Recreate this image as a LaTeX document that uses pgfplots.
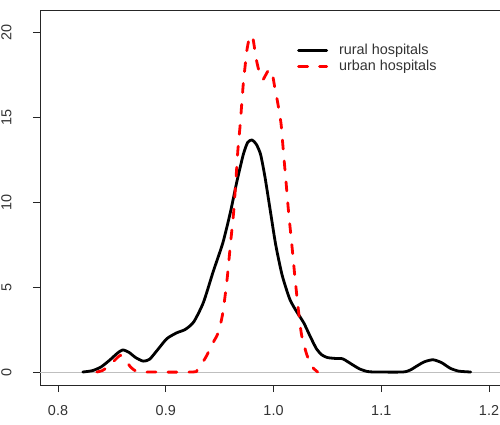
\documentclass[border=0pt]{standalone}
\usepackage{fontspec}
\setmainfont{Liberation Sans}
\usepackage{pgfplots}
\pgfplotsset{compat=1.18}

\pgfplotstableread{
x y
0.823 0
0.832 0.08
0.840 0.30
0.848 0.70
0.855 1.10
0.860 1.30
0.866 1.15
0.872 0.85
0.879 0.64
0.885 0.75
0.893 1.35
0.901 1.96
0.910 2.30
0.918 2.50
0.926 2.95
0.935 4.10
0.944 5.90
0.953 7.60
0.960 9.40
0.966 11.2
0.972 12.8
0.976 13.5
0.980 13.65
0.984 13.4
0.988 12.8
0.992 11.5
0.997 9.5
1.002 7.5
1.008 5.7
1.015 4.3
1.021 3.6
1.028 2.9
1.034 2.1
1.040 1.35
1.045 1.0
1.050 0.85
1.057 0.80
1.064 0.78
1.069 0.60
1.074 0.40
1.080 0.18
1.087 0.03
1.095 0
1.120 0
1.127 0.12
1.133 0.35
1.140 0.60
1.148 0.72
1.156 0.55
1.164 0.22
1.172 0.05
1.183 0
}\rural

\pgfplotstableread{
x y
0.836 0
0.841 0.08
0.846 0.30
0.852 0.65
0.858 0.98
0.863 0.65
0.868 0.25
0.873 0.03
0.878 0
0.925 0
0.929 0.12
0.933 0.45
0.937 0.85
0.941 1.35
0.945 1.85
0.949 2.35
0.953 3.5
0.957 5.5
0.960 7.5
0.963 9.4
0.965 11.2
0.967 13.1
0.969 14.5
0.972 17.0
0.9735 17.9
0.975 18.8
0.977 19.5
0.979 19.8
0.981 19.6
0.984 18.4
0.987 17.6
0.990 17.2
0.993 17.5
0.996 17.8
0.999 17.5
1.001 16.8
1.004 15.8
1.007 14.6
1.009 13.1
1.012 10.9
1.014 9.4
1.017 7.5
1.020 5.5
1.023 3.7
1.026 2.2
1.031 1.0
1.036 0.3
1.041 0
}\urban

\begin{document}
\begin{tikzpicture}
\useasboundingbox (0,0) rectangle (500pt,424pt);
\begin{axis}[
    at={(40pt,39pt)}, anchor=south west,
    scale only axis,
    width=460pt, height=375pt,
    xmin=0.78329, xmax=1.21021,
    ymin=-0.765, ymax=21.294,
    axis x line=box, axis y line=left,
    xtick pos=left,
    axis line style={black!85, line width=0.8pt, -},
    tick style={black!85, line width=0.8pt},
    tick align=outside,
    major tick length=7pt,
    xtick={0.8,0.9,1.0,1.1,1.2},
    xticklabels={0.8,0.9,1.0,1.1,1.2},
    ytick={0,5,10,15,20},
    yticklabel style={rotate=90, anchor=south},
    xticklabel shift=10pt,
    yticklabel shift=18pt,
    ticklabel style={font=\fontsize{14.4}{16}\selectfont, text=black!80},
    /pgf/number format/assume math mode=true,
    clip=true,
    legend style={draw=none, fill=none, inner sep=0pt,
        at={(rel axis cs:0.5587,0.9107)}, anchor=north west,
        font=\fontsize{14.4}{16}\selectfont, text=black!80,
        row sep=2.5pt, column sep=11pt,
        nodes={inner sep=0pt, text height=10.5pt, text depth=3pt}},
    legend cell align=left,
    legend image code/.code={\draw[#1] (0pt,0pt) -- (28pt,0pt);},
]
\addplot[gray!50, line width=0.8pt, forget plot] coordinates {(0.7,0) (1.3,0)};
\addplot[black, line width=2.8pt, smooth, tension=0.4, line join=round, line cap=round] table {\rural};
\addplot[red, line width=2.8pt, smooth, tension=0.4, line cap=round, dash pattern=on 9pt off 12pt] table {\urban};
\legend{rural hospitals, urban hospitals}
\end{axis}
\end{tikzpicture}
\end{document}
